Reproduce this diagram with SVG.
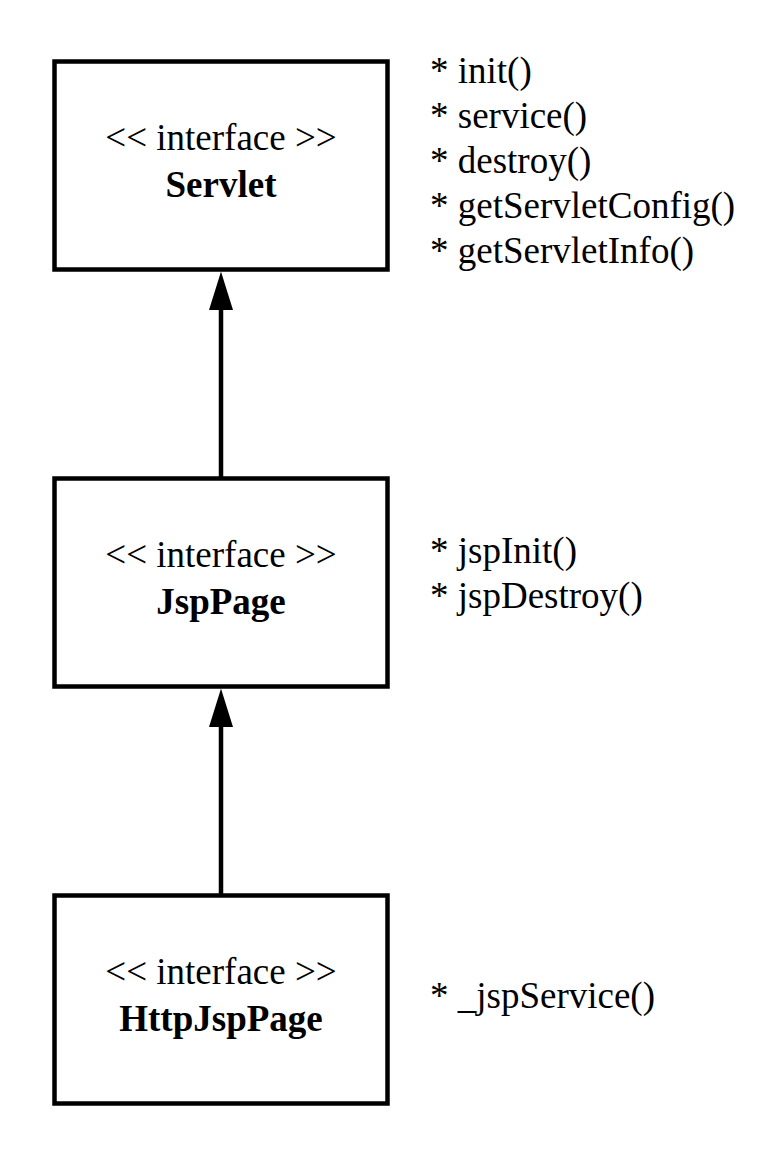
<svg xmlns="http://www.w3.org/2000/svg" width="784" height="1166" viewBox="0 0 784 1166">
<style>
.box{fill:#fff;stroke:#000;stroke-width:4.5}
.t{font-family:"Liberation Serif","Times New Roman",serif;font-size:37px;fill:#000}
.c{text-anchor:middle}
.b{font-weight:bold}
.ln{stroke:#000;stroke-width:4.5;fill:none}
</style>
<rect width="784" height="1166" fill="#fff"/>
<g id="connectors">
<line class="ln" x1="221" y1="478" x2="221" y2="308"/>
<path d="M221,271.5 L209,310 L233,310 Z" fill="#000"/>
<line class="ln" x1="221" y1="895" x2="221" y2="725"/>
<path d="M221,688.5 L209,727 L233,727 Z" fill="#000"/>
</g>
<g id="servlet">
<rect class="box" x="54.5" y="61.5" width="333" height="208"/>
<text class="t c" x="221" y="150">&lt;&lt; interface &gt;&gt;</text>
<text class="t c b" x="221" y="196.5">Servlet</text>
</g>
<g id="servlet-methods">
<text class="t" x="430" y="83">* init()</text>
<text class="t" x="430" y="128">* service()</text>
<text class="t" x="430" y="173">* destroy()</text>
<text class="t" x="430" y="218">* getServletConfig()</text>
<text class="t" x="430" y="263">* getServletInfo()</text>
</g>
<g id="jsppage">
<rect class="box" x="54.5" y="478.5" width="333" height="208"/>
<text class="t c" x="221" y="567">&lt;&lt; interface &gt;&gt;</text>
<text class="t c b" x="221" y="613.5">JspPage</text>
</g>
<g id="jsppage-methods">
<text class="t" x="430" y="563">* jspInit()</text>
<text class="t" x="430" y="608">* jspDestroy()</text>
</g>
<g id="httpjsppage">
<rect class="box" x="54.5" y="895.5" width="333" height="208"/>
<text class="t c" x="221" y="984">&lt;&lt; interface &gt;&gt;</text>
<text class="t c b" x="221" y="1030.5">HttpJspPage</text>
</g>
<g id="httpjsppage-methods">
<text class="t" x="430" y="1008">* _jspService()</text>
</g>
</svg>
